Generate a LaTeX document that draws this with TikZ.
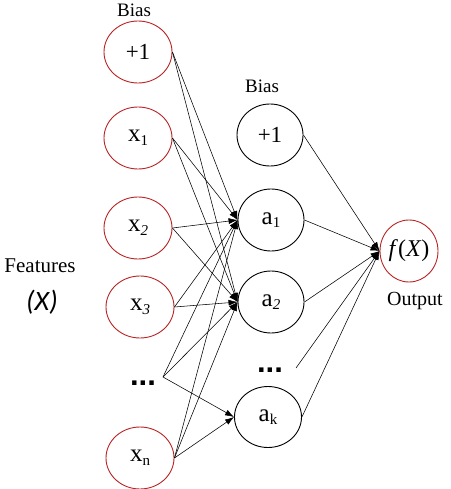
\documentclass[tikz,border=0pt]{standalone}
\usepackage{fontspec}
\setmainfont{Liberation Serif}
\newfontfamily\carlito{Carlito}
\newfontfamily\arialish{Liberation Sans}
\usetikzlibrary{shapes.geometric,arrows.meta}
\definecolor{nodered}{RGB}{185,35,35}
\newcommand{\lowsub}[1]{\raisebox{-0.32ex}{\fontsize{15}{15}\selectfont #1}}
\begin{document}
\begin{tikzpicture}[x=1pt,y=-1pt,
  inode/.style={ellipse,draw=nodered,line width=0.9pt,minimum width=68pt,minimum height=62pt,inner sep=0pt,font=\fontsize{25}{27}\selectfont},
  hnode/.style={ellipse,draw=black,line width=0.9pt,minimum width=66pt,minimum height=62pt,inner sep=0pt,font=\fontsize{25}{27}\selectfont},
  onode/.style={ellipse,draw=nodered,line width=0.9pt,minimum width=58pt,minimum height=62pt,inner sep=0pt,font=\fontsize{24}{26}\selectfont},
  plusone/.style={font=\fontsize{23}{25}\selectfont},
  lbl/.style={inner sep=0pt,font=\fontsize{19}{21}\selectfont},
  dotsnode/.style={inner sep=0pt,font=\fontsize{31}{33}\selectfont\arialish\bfseries},
  conn/.style={line width=0.55pt,-{Latex[length=9pt,width=6pt]}}]
\useasboundingbox (0,0) rectangle (450,489);
% input layer
\node[inode,plusone] (ib) at (138,52) {+1};
\node[inode] (x1) at (138,138) {x\lowsub{1}};
\node[inode] (x2) at (138,228) {x\lowsub{\itshape 2}};
\node[inode] (x3) at (140,307) {x\lowsub{\itshape 3}};
\node[dotsnode] (id) at (143,383) {...};
\coordinate (idc) at (163,377);
\node[inode] (xn) at (140,458) {x\lowsub{n}};
% hidden layer
\node[hnode,plusone] (hb) at (270,135) {+1};
\node[hnode] (a1) at (271,220) {a\lowsub{1}};
\node[hnode] (a2) at (271,302) {a\lowsub{\itshape 2}};
\node[dotsnode] (hd) at (270,370) {...};
\coordinate (hdc) at (296,368);
\node[hnode,minimum width=67pt,minimum height=61pt] (ak) at (268,417) {a\lowsub{k}};
% output
\node[onode] (out) at (409,251) {\textit{f}(\textit{X})};
% labels
\node[lbl] (bias1) at (134,10) {Bias};
\node[lbl] (bias2) at (262,86) {Bias};
\node[lbl,font=\fontsize{21}{23}\selectfont] (feat) at (40,266) {Features};
\node[lbl,font=\fontsize{28}{30}\selectfont\carlito\itshape] (fx) at (42,302) {(X)};
\node[lbl,font=\fontsize{20}{22}\selectfont] (outl) at (415,301) {Output};
% input -> hidden
\foreach \s in {ib,x1,x2,x3,xn}{
  \draw[conn] (\s.east) -- (a1.west);
  \draw[conn] (\s.east) -- (a2.west);
}
\draw[conn] (idc) -- (a1.west);
\draw[conn] (idc) -- (a2.west);
\draw[conn] (idc) -- (ak.west);
\draw[conn] (xn.east) -- (ak.west);
% hidden -> output
\foreach \s in {hb,a1,a2,ak}{
  \draw[conn] (\s.east) -- (out.west);
}
\draw[conn] (hdc) -- (out.west);
\end{tikzpicture}
\end{document}
